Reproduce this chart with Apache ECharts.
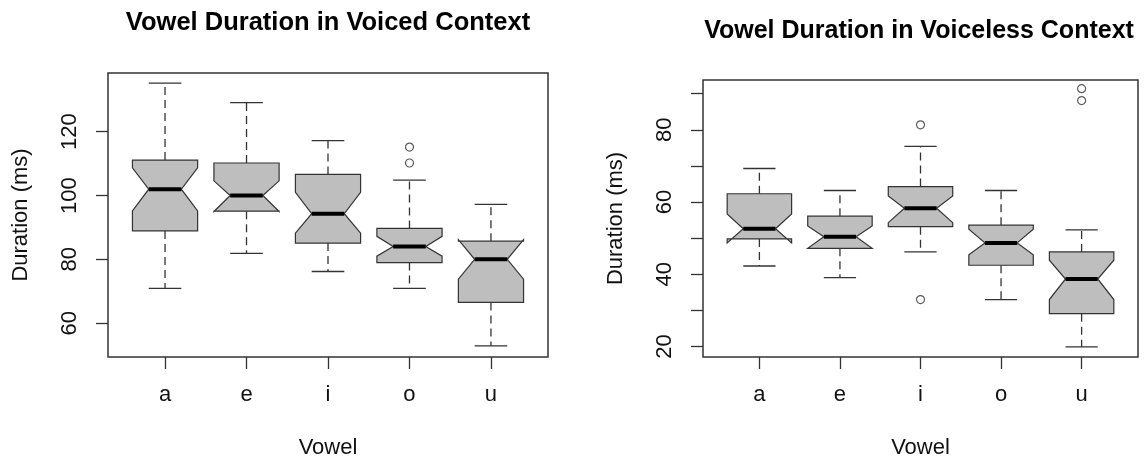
<!DOCTYPE html>
<html>
<head>
<meta charset="utf-8">
<script src="https://cdn.jsdelivr.net/npm/echarts@6/dist/echarts.min.js"></script>
<style>
  html, body { margin: 0; padding: 0; background: #ffffff; }
  #chart { width: 1146px; height: 464px; }
</style>
</head>
<body>
<div id="chart"></div>
<script>
// Vowel categories shared by both panels
const vowels = ['a', 'e', 'i', 'o', 'u'];

// Voiced context: five-number summaries and notch limits (ms)
const voicedWhiskerLow  = [70.9, 81.9, 76.2, 70.9, 52.9];
const voicedQ1          = [88.9, 95.1, 85.1, 79.0, 66.5];
const voicedNotchLow    = [95.2, 95.0, 88.2, 81.0, 73.8];
const voicedMedian      = [102.0, 100.0, 94.3, 84.0, 80.0];
const voicedNotchHigh   = [108.7, 104.6, 101.0, 87.2, 86.2];
const voicedQ3          = [111.1, 110.2, 106.6, 89.7, 85.7];
const voicedWhiskerHigh = [135.2, 129.1, 117.2, 104.8, 97.2];
const voicedOutliers    = [['o', 115.2], ['o', 110.2]];

// Voiceless context: five-number summaries and notch limits (ms)
const voicelessWhiskerLow  = [42.3, 39.1, 46.2, 33.0, 19.9];
const voicelessQ1          = [49.8, 47.2, 53.2, 42.5, 29.1];
const voicelessNotchLow    = [48.7, 47.2, 54.3, 45.4, 33.0];
const voicelessMedian      = [52.6, 50.4, 58.3, 48.7, 38.7];
const voicelessNotchHigh   = [56.7, 53.4, 61.7, 52.5, 43.9];
const voicelessQ3          = [62.3, 56.1, 64.3, 53.6, 46.2];
const voicelessWhiskerHigh = [69.3, 63.2, 75.4, 63.2, 52.3];
const voicelessOutliers    = [['i', 81.4], ['i', 33.0], ['u', 91.4], ['u', 88.1]];

// Axis ticks and labels
const voicedTicks = [60, 80, 100, 120];
const voicedLabels = [60, 80, 100, 120];
const voicelessTicks = [20, 30, 40, 50, 60, 70, 80, 90];
const voicelessLabels = [20, 40, 60, 80];

const TEXT_FONT = '"Liberation Sans", Arial, sans-serif';
const INK = '#333333';

function boxRows(lo, q1, nLo, med, nHi, q3, hi) {
  return vowels.map((v, i) => [i + 1, lo[i], q1[i], nLo[i], med[i], nHi[i], q3[i], hi[i]]);
}
function outlierRows(list) {
  return list.map(([v, y]) => [vowels.indexOf(v) + 1, y]);
}

// Notched box with dashed whiskers and staples
function renderBox(params, api) {
  const x = api.value(0);
  const lo = api.value(1), q1 = api.value(2), nLo = api.value(3), med = api.value(4),
        nHi = api.value(5), q3 = api.value(6), hi = api.value(7);
  const w = api.size([0.8, 0])[0] / 2;          // half box width
  const cx = api.coord([x, med])[0];
  const py = v => api.coord([x, v])[1];
  const dashed = { stroke: INK, lineWidth: 1.3, lineDash: [8, 5], fill: null };
  const solid = { stroke: INK, lineWidth: 1.3, fill: null };
  const pts = [
    [cx - w, py(q1)], [cx + w, py(q1)], [cx + w, py(nLo)], [cx + w / 2, py(med)],
    [cx + w, py(nHi)], [cx + w, py(q3)], [cx - w, py(q3)], [cx - w, py(nHi)],
    [cx - w / 2, py(med)], [cx - w, py(nLo)]
  ];
  return {
    type: 'group',
    children: [
      { type: 'line', shape: { x1: cx, y1: py(q3), x2: cx, y2: py(hi) }, style: dashed },
      { type: 'line', shape: { x1: cx, y1: py(q1), x2: cx, y2: py(lo) }, style: dashed },
      { type: 'line', shape: { x1: cx - w / 2, y1: py(hi), x2: cx + w / 2, y2: py(hi) }, style: solid },
      { type: 'line', shape: { x1: cx - w / 2, y1: py(lo), x2: cx + w / 2, y2: py(lo) }, style: solid },
      { type: 'polygon', shape: { points: pts }, style: { fill: '#bebebe', stroke: INK, lineWidth: 1.2 } },
      { type: 'line', shape: { x1: cx - w / 2, y1: py(med), x2: cx + w / 2, y2: py(med) },
        style: { stroke: '#000', lineWidth: 4 } }
    ]
  };
}

function xAxisFor(gridIndex) {
  return {
    gridIndex, type: 'value', min: 0.3, max: 5.7,
    axisLine: { show: false }, splitLine: { show: false },
    axisTick: { show: true, customValues: [1, 2, 3, 4, 5], length: 12,
                lineStyle: { color: INK, width: 1.3 } },
    axisLabel: { customValues: [1, 2, 3, 4, 5], formatter: v => vowels[Math.round(v) - 1],
                 margin: 27, fontSize: 22, fontFamily: TEXT_FONT, color: '#111' },
    name: 'Vowel', nameLocation: 'middle', nameGap: 80,
    nameTextStyle: { fontSize: 22, fontFamily: TEXT_FONT, color: '#111' }
  };
}
function yAxisFor(gridIndex, min, max, ticks, labels) {
  return {
    gridIndex, type: 'value', min, max,
    axisLine: { show: false }, splitLine: { show: false },
    axisTick: { show: true, customValues: ticks, length: 12, lineStyle: { color: INK, width: 1.3 } },
    axisLabel: { customValues: labels, rotate: 90, margin: 27,
                 fontSize: 22, fontFamily: TEXT_FONT, color: '#111' },
    name: 'Duration (ms)', nameLocation: 'middle', nameGap: 76,
    nameTextStyle: { fontSize: 22, fontFamily: TEXT_FONT, color: '#111' }
  };
}

const chart = echarts.init(document.getElementById('chart'), null, { renderer: 'canvas' });
chart.setOption({
  animation: false,
  backgroundColor: '#ffffff',
  graphic: [
    { type: 'text', x: 328, y: 23,
      style: { text: 'Vowel Duration in Voiced Context', font: 'bold 25.5px ' + TEXT_FONT,
               fill: '#000', align: 'center', verticalAlign: 'middle',
               textAlign: 'center', textVerticalAlign: 'middle' } },
    { type: 'text', x: 919, y: 31,
      style: { text: 'Vowel Duration in Voiceless Context', font: 'bold 25px ' + TEXT_FONT,
               fill: '#000', align: 'center', verticalAlign: 'middle',
               textAlign: 'center', textVerticalAlign: 'middle' } }
  ],
  grid: [
    { left: 108, top: 73, width: 440, height: 289, show: true,
      borderColor: INK, borderWidth: 1.5, backgroundColor: 'transparent' },
    { left: 703, top: 80, width: 435, height: 283, show: true,
      borderColor: INK, borderWidth: 1.5, backgroundColor: 'transparent' }
  ],
  xAxis: [xAxisFor(0), xAxisFor(1)],
  yAxis: [
    yAxisFor(0, 49.4, 138.4, voicedTicks, voicedLabels),
    yAxisFor(1, 17.1, 93.8, voicelessTicks, voicelessLabels)
  ],
  series: [
    { type: 'custom', xAxisIndex: 0, yAxisIndex: 0, renderItem: renderBox,
      encode: { x: 0, y: [1, 2, 3, 4, 5, 6, 7] },
      data: boxRows(voicedWhiskerLow, voicedQ1, voicedNotchLow, voicedMedian,
                    voicedNotchHigh, voicedQ3, voicedWhiskerHigh) },
    { type: 'scatter', xAxisIndex: 0, yAxisIndex: 0, symbol: 'circle', symbolSize: 8,
      itemStyle: { color: '#fff', borderColor: INK, borderWidth: 1.2 },
      data: outlierRows(voicedOutliers) },
    { type: 'custom', xAxisIndex: 1, yAxisIndex: 1, renderItem: renderBox,
      encode: { x: 0, y: [1, 2, 3, 4, 5, 6, 7] },
      data: boxRows(voicelessWhiskerLow, voicelessQ1, voicelessNotchLow, voicelessMedian,
                    voicelessNotchHigh, voicelessQ3, voicelessWhiskerHigh) },
    { type: 'scatter', xAxisIndex: 1, yAxisIndex: 1, symbol: 'circle', symbolSize: 8,
      itemStyle: { color: '#fff', borderColor: INK, borderWidth: 1.2 },
      data: outlierRows(voicelessOutliers) }
  ]
});
</script>
</body>
</html>
